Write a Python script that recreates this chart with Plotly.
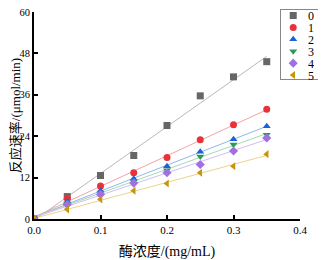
import numpy as np
import plotly.graph_objects as go

conc = [0, 0.05, 0.10, 0.15, 0.20, 0.25, 0.30, 0.35]
series_names = ["0", "1", "2", "3", "4", "5"]
rate_0 = [0, 6.5, 12.6, 18.4, 27.1, 35.7, 41.2, 45.6]
rate_1 = [0, 6.0, 9.6, 13.4, 17.8, 23.0, 27.3, 31.8]
rate_2 = [0, 5.1, 8.2, 11.7, 15.3, 19.5, 23.1, 26.9]
rate_3 = [0, 4.6, 7.7, 11.0, 14.1, 18.1, 21.6, 24.4]
rate_4 = [0, 4.2, 7.1, 10.4, 13.4, 15.8, 19.7, 23.5]
rate_5 = [0, 2.8, 5.7, 8.2, 10.3, 13.4, 15.3, 18.8]
rates = [rate_0, rate_1, rate_2, rate_3, rate_4, rate_5]

x_ticks = [0.0, 0.1, 0.2, 0.3, 0.4]
x_tick_labels = ["0.0", "0.1", "0.2", "0.3", "0.4"]
y_ticks = [0, 12, 24, 36, 48, 60]

marker_colors = ["#666666", "#e8323a", "#1a62d8", "#2a9a55", "#a070e0", "#c8960c"]
line_colors = ["#b8b8b8", "#f5a3a3", "#8fb6ee", "#a3d9b5", "#d4bdf2", "#ecd28a"]
symbols = ["square", "circle", "triangle-up", "triangle-down", "diamond", "triangle-left"]

# figure geometry (page body adds an 8px offset)
W, H = 318, 252
ML, MR, MT, MB = 26, 2, 1, 41
PW = W - ML - MR
PH = H - MT - MB
main_frac_x = 266 / PW
main_top_fig = 4
main_frac_y = (PH - (main_top_fig - MT)) / PH
leg_x0 = (273 - ML) / PW
leg_top_fig, leg_bot_fig = 1, 71          # legend box, figure pixels
item_px, first_fig = 12, 7                # legend rows, figure pixels
leg_ytop = (PH - (leg_top_fig - MT)) / PH
leg_ybot = (PH - (leg_bot_fig - MT)) / PH

fig = go.Figure()
x_arr = np.array(conc)
for i, y in enumerate(rates):
    k, b = np.polyfit(x_arr, np.array(y), 1)
    xf = np.array([conc[0], conc[-1]])
    fig.add_trace(go.Scatter(x=xf, y=k * xf + b, mode="lines",
                             line=dict(color=line_colors[i], width=1),
                             showlegend=False, hoverinfo="skip"))
for i, (name, y) in enumerate(zip(series_names, rates)):
    fig.add_trace(go.Scatter(x=conc, y=y, mode="markers", name=name, showlegend=False,
                             marker=dict(symbol=symbols[i], color=marker_colors[i], size=7,
                                         line=dict(width=0))))

# custom compact legend (its frame is the mirrored line of a hidden-tick subplot)
for i, name in enumerate(series_names):
    fig.add_trace(go.Scatter(x=[0.29], y=[i], mode="markers", xaxis="x2", yaxis="y2",
                             showlegend=False, hoverinfo="skip",
                             marker=dict(symbol=symbols[i], color=marker_colors[i], size=7,
                                         line=dict(width=0))))
    fig.add_annotation(x=0.72, y=i, xref="x2", yref="y2", text=name, showarrow=False,
                       xanchor="center", yanchor="middle", height=11, font=dict(size=12))

font_family = "Liberation Serif, Times New Roman, Noto Sans CJK SC, serif"
legend_axis = dict(showline=True, mirror=True, linecolor="#888888", linewidth=1,
                   showticklabels=False, ticks="", showgrid=False, zeroline=False,
                   fixedrange=True)
fig.update_layout(
    width=W, height=H,
    margin=dict(l=ML, r=MR, t=MT, b=MB, autoexpand=False),
    plot_bgcolor="white", paper_bgcolor="white",
    font=dict(family=font_family, size=11, color="#000000"),
    showlegend=False,
    xaxis=dict(domain=[0, main_frac_x], range=[0, 0.4], tickvals=x_ticks, ticktext=x_tick_labels,
               showgrid=False, zeroline=False, showline=True, linecolor="black", linewidth=2,
               ticks="inside", ticklen=4, tickwidth=1.5, tickcolor="black", automargin=False,
               ticklabeloverflow="allow",
               title=dict(text="酶浓度/(mg/mL)", font=dict(size=14), standoff=16)),
    yaxis=dict(domain=[0, main_frac_y], range=[0, 60], tickvals=y_ticks,
               showgrid=False, zeroline=False, showline=True, linecolor="black", linewidth=2,
               ticks="inside", ticklen=4, tickwidth=1.5, tickcolor="black", automargin=False,
               ticklabeloverflow="allow", tickfont=dict(size=10.5),
               title=dict(text="反应速率/(μmol/min)", font=dict(size=13), standoff=9)),
    xaxis2=dict(domain=[leg_x0, 0.997], range=[0, 1], anchor="y2", **legend_axis),
    yaxis2=dict(domain=[leg_ybot, min(leg_ytop, 0.997)],
                range=[(leg_bot_fig - first_fig) / item_px, (leg_top_fig - first_fig) / item_px],
                anchor="x2", **legend_axis),
)
fig.write_html("out.html")
